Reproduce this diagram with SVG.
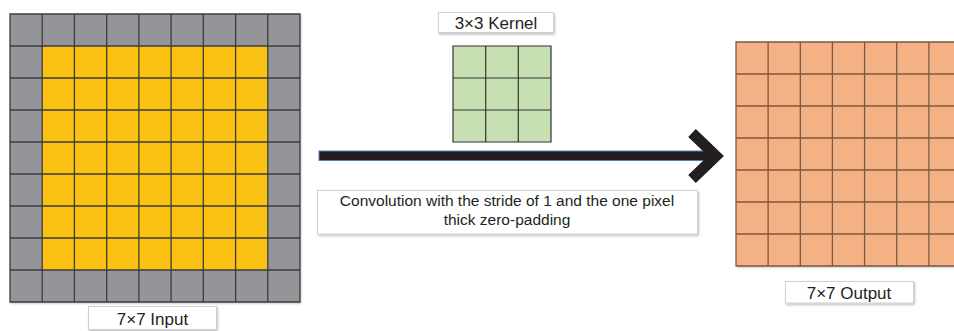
<svg xmlns="http://www.w3.org/2000/svg" width="954" height="331" viewBox="0 0 954 331">
<defs>
<style>
.grid{fill:none;stroke:#3c3c3c;stroke-width:1.3}
.ogrid{fill:none;stroke:#7a5a44;stroke-width:1.3}
.kgrid{fill:none;stroke:#333;stroke-width:1.2}
.lbl{fill:#fff;stroke:#cfcfcf;stroke-width:1}
.t{font-family:"Liberation Sans",Arial,sans-serif;fill:#231f20;text-anchor:middle}
.l{font-size:17px}
.c{font-size:15.5px}
</style>
<filter id="sh" x="-10%" y="-10%" width="120%" height="130%">
<feDropShadow dx="1" dy="1.5" stdDeviation="1" flood-color="#000" flood-opacity="0.25"/>
</filter>
</defs>
<g id="input">
<rect x="10" y="14" width="290" height="288" fill="#939598" filter="url(#sh)"/>
<rect x="42.2" y="46" width="225.6" height="224" fill="#fbc113"/>
<path class="grid" d="M10,14H300V302H10Z M42.2,14V302 M74.4,14V302 M106.7,14V302 M138.9,14V302 M171.1,14V302 M203.3,14V302 M235.6,14V302 M267.8,14V302 M10,46H300 M10,78H300 M10,110H300 M10,142H300 M10,174H300 M10,206H300 M10,238H300 M10,270H300"/>
</g>
<g id="input-label">
<rect class="lbl" x="88.5" y="306.5" width="128" height="23" filter="url(#sh)"/>
<text class="t l" x="152.5" y="324.5">7×7 Input</text>
</g>
<g id="kernel-label">
<rect class="lbl" x="438.5" y="12.5" width="115" height="20" filter="url(#sh)"/>
<text class="t l" x="496" y="28.5">3×3 Kernel</text>
</g>
<g id="kernel">
<rect x="453" y="46" width="98" height="96" fill="#c6e0b4"/>
<path class="kgrid" d="M453,46H551V142H453Z M485.7,46V142 M518.3,46V142 M453,78H551 M453,110H551"/>
</g>
<g id="connectors">
<rect x="319" y="151" width="392" height="9.5" fill="#231f20" stroke="#5b7fb5" stroke-width="1"/>
<path d="M692,133 L716,156 L692,179" fill="none" stroke="#231f20" stroke-width="11" stroke-linejoin="miter" stroke-miterlimit="10"/>
</g>
<g id="caption">
<rect class="lbl" x="317.5" y="190.5" width="380" height="43.5" filter="url(#sh)"/>
<text class="t c" x="507" y="206">Convolution with the stride of 1 and the one pixel</text>
<text class="t c" x="507" y="225">thick zero-padding</text>
</g>
<g id="output">
<rect x="736" y="42" width="225" height="224" fill="#f4b183" filter="url(#sh)"/>
<path class="ogrid" d="M736,42H961V266H736Z M768.1,42V266 M800.3,42V266 M832.4,42V266 M864.6,42V266 M896.7,42V266 M928.9,42V266 M736,74H961 M736,106H961 M736,138H961 M736,170H961 M736,202H961 M736,234H961"/>
</g>
<g id="output-label">
<rect class="lbl" x="785.5" y="281.5" width="128" height="21.5" filter="url(#sh)"/>
<text class="t l" x="849" y="298.5">7×7 Output</text>
</g>
</svg>
